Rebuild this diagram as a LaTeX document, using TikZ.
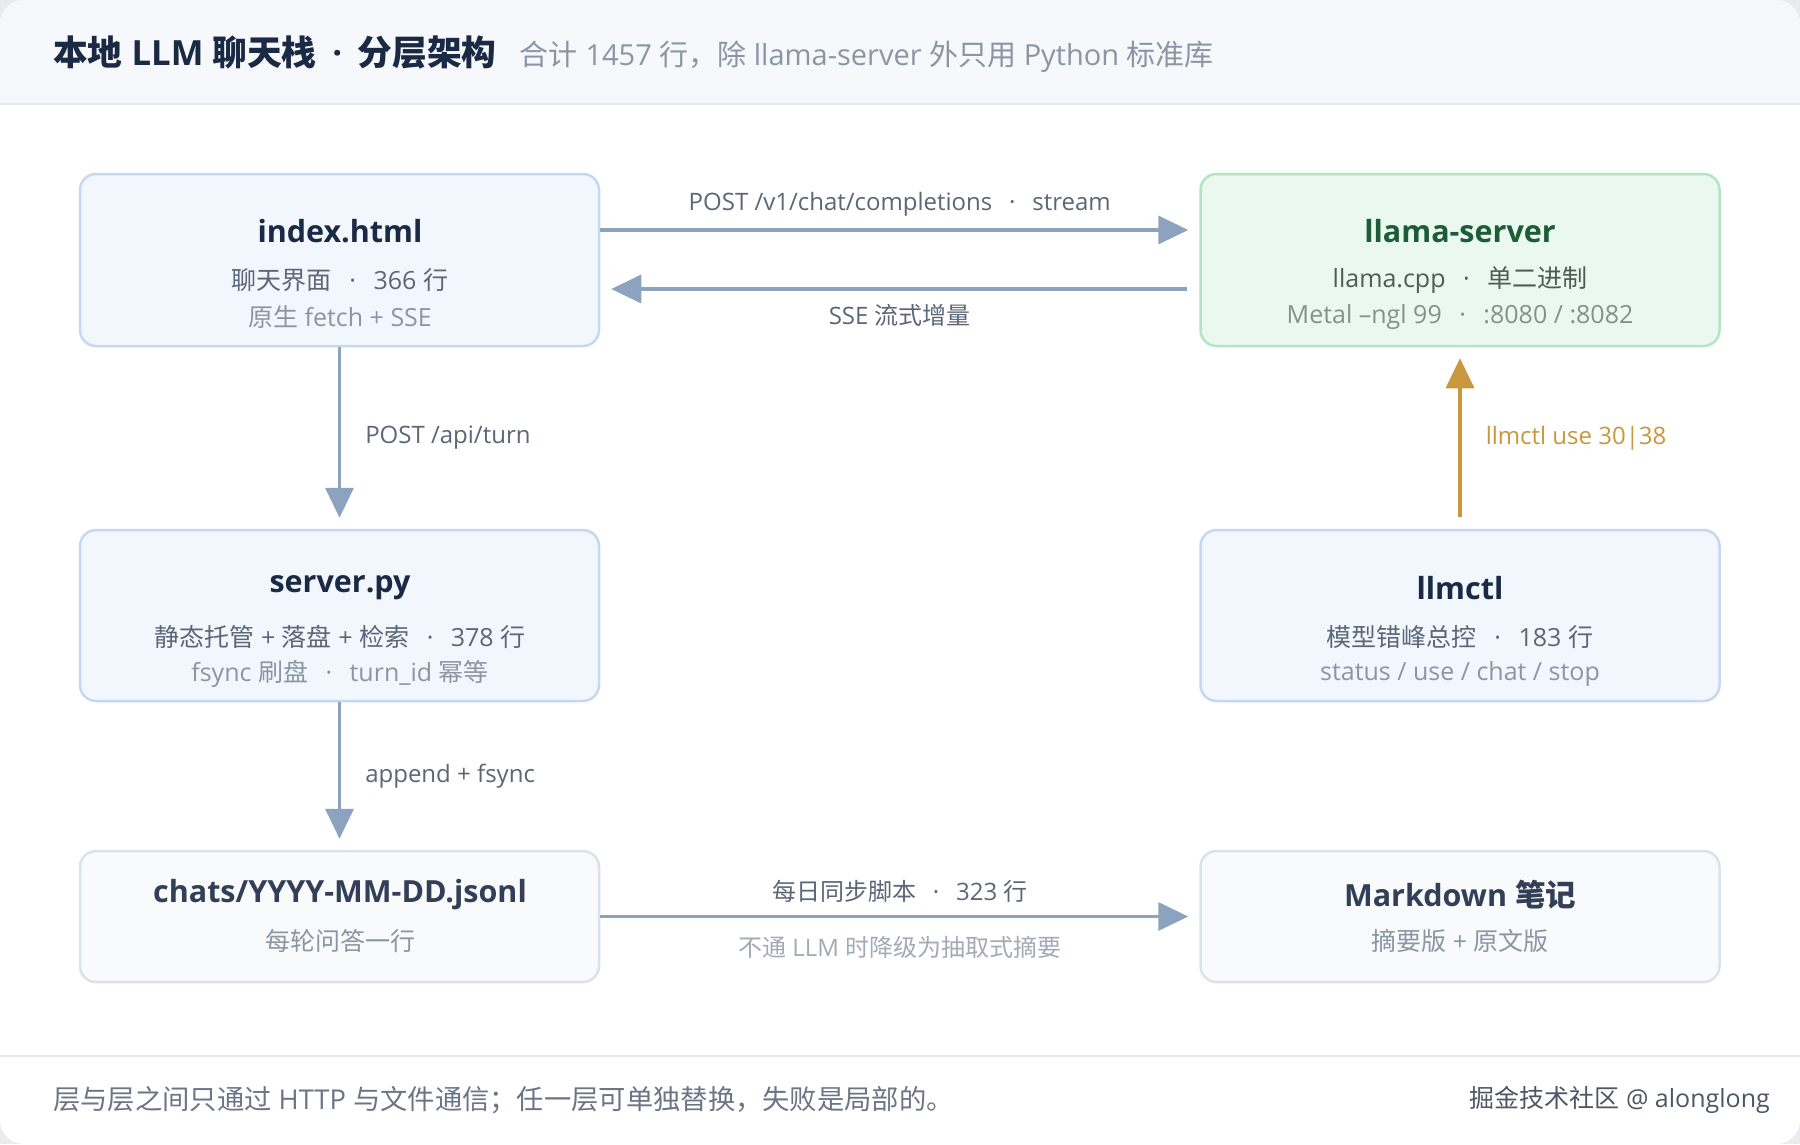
\documentclass[tikz,border=0pt]{standalone}
\usepackage{fontspec}
\setmainfont{Open Sans}
\newfontfamily\hanfont{Noto Sans CJK SC}
\usetikzlibrary{arrows.meta,positioning}

% han characters switch to the CJK family on their own
\makeatletter
\XeTeXinterchartokenstate=1
\newXeTeXintercharclass\hanclass
\def\sethan#1#2{\count@=#1\relax
  \loop\XeTeXcharclass\count@=\hanclass\ifnum\count@<#2\advance\count@\@ne\repeat}
\sethan{"3000}{"303F}
\sethan{"4E00}{"9FFF}
\sethan{"FF00}{"FFEF}
\XeTeXinterchartoks 0 \hanclass = {\begingroup\hanfont}
\XeTeXinterchartoks 4095 \hanclass = {\begingroup\hanfont}
\XeTeXinterchartoks \hanclass 0 = {\endgroup}
\XeTeXinterchartoks \hanclass 4095 = {\endgroup}
\makeatother

\newcommand\sep[1][0.7em]{\hspace{#1}·\hspace{#1}}

\definecolor{edgeblue}{HTML}{C6D8F1}
\definecolor{fillblue}{HTML}{F2F7FE}
\definecolor{edgegreen}{HTML}{B3E4C4}
\definecolor{fillgreen}{HTML}{EAF8EF}
\definecolor{edgegray}{HTML}{DCE2EA}
\definecolor{fillgray}{HTML}{F8FAFC}
\definecolor{inkdark}{HTML}{1B2A44}
\definecolor{inkgreen}{HTML}{1D5C39}
\definecolor{greenmid}{HTML}{4A5E52}
\definecolor{greenlight}{HTML}{82948A}
\definecolor{inkmid}{HTML}{5B6677}
\definecolor{inklight}{HTML}{8B95A4}
\definecolor{flow}{HTML}{8DA2BE}
\definecolor{gold}{HTML}{C9973E}
\definecolor{headbg}{HTML}{F6F8FB}
\definecolor{rule}{HTML}{E5E8ED}
\definecolor{outside}{HTML}{E9EBEF}

\tikzset{
  layer/.style={draw=edgeblue, fill=fillblue, line width=2.5pt, rounded corners=16pt,
    minimum width=519pt, minimum height=172pt, inner sep=0pt},
  engine/.style={layer, draw=edgegreen, fill=fillgreen},
  store/.style={layer, draw=edgegray, fill=fillgray, minimum height=131pt},
  boxtitle/.style={inner sep=0pt, text=inkdark, font=\fontsize{30.5}{34}\selectfont\bfseries},
  lineone/.style={inner sep=0pt, text=inkmid, font=\fontsize{25}{29}\selectfont},
  linetwo/.style={inner sep=0pt, text=inklight, font=\fontsize{25}{29}\selectfont},
  flowarrow/.style={draw=flow, line width=3.5pt, -{Triangle[length=30pt,width=28pt]}, shorten >=11pt},
  goldarrow/.style={flowarrow, draw=gold},
  flowlabel/.style={inner sep=0pt, text=inkmid, font=\fontsize{24}{28}\selectfont}
}

\begin{document}
\begin{tikzpicture}[x=1pt, y=-1pt]
\useasboundingbox (0,0) rectangle (1800,1144);

% card and bands
\fill[outside] (0,0) rectangle (1800,1144);
\fill[white, rounded corners=24pt] (0,0) rectangle (1800,1144);
\begin{scope}
\clip[rounded corners=24pt] (0,0) rectangle (1800,1144);
\fill[headbg] (0,0) rectangle (1800,104);
\end{scope}
\draw[rule, line width=1.5pt] (0,104) -- (1800,104);
\draw[rule, line width=1.5pt] (0,1056) -- (1800,1056);

% header
\node[inner sep=0pt, anchor=west, text=inkdark, font=\fontsize{34.7}{38}\selectfont\bfseries] (head) at (53,53) {本地 LLM 聊天栈\sep[0.45em]分层架构};
\node[inner sep=0pt, anchor=base west, text=inklight, font=\fontsize{29}{33}\selectfont] (headsub) at ([xshift=23pt]head.base east) {合计 1457 行，除 llama-server 外只用 Python 标准库};

% boxes
\node[layer] (idx) at (339.5,260) {};
\node[engine] (llm) at (1460,260) {};
\node[layer, minimum height=171pt] (srv) at (339.5,615.5) {};
\node[layer, minimum height=171pt] (ctl) at (1460,615.5) {};
\node[store] (jsonl) at (339.5,916.5) {};
\node[store] (md) at (1460,916.5) {};

% box texts
\node[boxtitle] (idxT) at (340,231) {index.html};
\node[lineone] (idxA) at (340,280) {聊天界面\sep 366 行};
\node[linetwo] (idxB) at (340,317) {原生 fetch + SSE};

\node[boxtitle, text=inkgreen] (llmT) at (1460,231) {llama-server};
\node[lineone, text=greenmid] (llmA) at (1460,280) {llama.cpp\sep 单二进制};
\node[linetwo, text=greenlight] (llmB) at (1460,317) {Metal –ngl 99\sep :8080 / :8082};

\node[boxtitle] (srvT) at (340,588) {server.py};
\node[lineone] (srvA) at (340,637) {静态托管\ + 落盘\ + 检索\sep 378 行};
\node[linetwo] (srvB) at (340,674) {fsync 刷盘\sep turn\_id 幂等};

\node[boxtitle] (ctlT) at (1460,588) {llmctl};
\node[lineone] (ctlA) at (1460,637) {模型错峰总控\sep 183 行};
\node[linetwo] (ctlB) at (1460,674) {status / use / chat / stop};

\node[boxtitle, text=inkdark!90] (jsonlT) at (340,895) {chats/YYYY-MM-DD.jsonl};
\node[linetwo] (jsonlA) at (340,941) {每轮问答一行};

\node[boxtitle, text=inkdark!90] (mdT) at (1460,895) {Markdown 笔记};
\node[linetwo] (mdA) at (1460,941) {摘要版 + 原文版};

% connectors
\draw[flowarrow] ([yshift=30pt]idx.east) -- ([yshift=30pt]llm.west)
  node[flowlabel, midway, above=12pt] (postL) {POST /v1/chat/completions\sep stream};
\draw[flowarrow, shorten <=12pt] ([yshift=-29pt]llm.west) -- ([yshift=-29pt]idx.east)
  node[flowlabel, midway, below=14pt] (sseL) {SSE 流式增量};
\draw[flowarrow] (idx.south) -- (srv.north)
  node[flowlabel, midway, right=24pt] (turnL) {POST /api/turn};
\draw[flowarrow] (srv.south) -- (jsonl.north)
  node[flowlabel, midway, right=24pt] (appendL) {append + fsync};
\draw[goldarrow, shorten <=12pt] (ctl.north) -- (llm.south)
  node[flowlabel, text=gold, midway, right=24pt] (useL) {llmctl use 30|38};
\draw[flowarrow] (jsonl.east) -- (md.west)
  node[flowlabel, midway, above=12pt] (syncL) {每日同步脚本\sep 323 行}
  node[flowlabel, text=inklight!80, midway, below=18pt] (fallL) {不通 LLM 时降级为抽取式摘要};

% footer
\node[inner sep=0pt, anchor=west, text=inkmid!90, font=\fontsize{27.3}{31}\selectfont] (foot) at (53,1100) {层与层之间只通过 HTTP 与文件通信；任一层可单独替换，失败是局部的。};
\node[inner sep=0pt, anchor=east, text=inkmid!85!black, font=\fontsize{25}{29}\selectfont] (mark) at (1770,1100) {掘金技术社区 @ alonglong};
\end{tikzpicture}
\end{document}
